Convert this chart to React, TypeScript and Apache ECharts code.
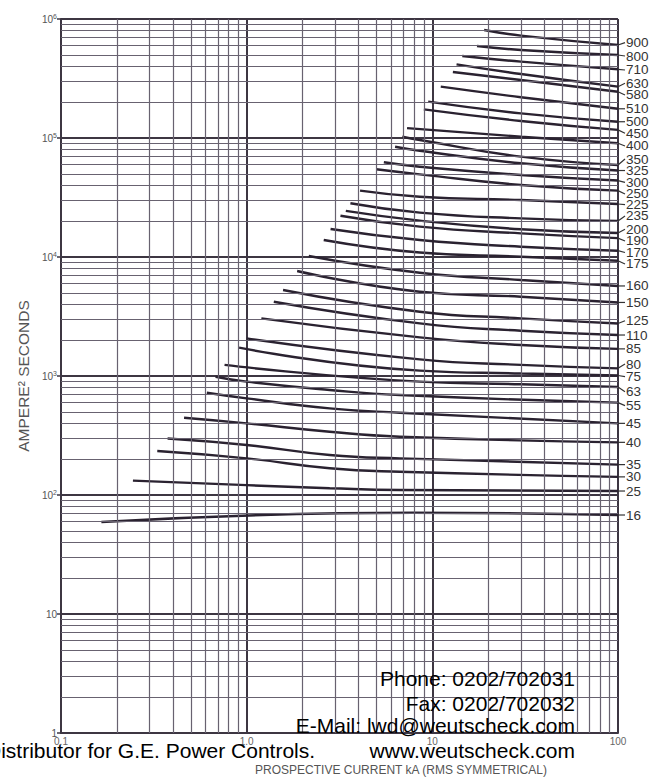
import React, { useEffect, useRef } from "react";
import * as echarts from "echarts";

// Fuse ratings (right-hand labels), top to bottom
const ratings = [
  "900", "800", "710", "630", "580", "510", "500", "450", "400", "350",
  "325", "300", "250", "225", "235", "200", "190", "170", "175", "160",
  "150", "125", "110", "85", "80", "75", "63", "55", "45", "40",
  "35", "30", "25", "16",
];

// Let-through I²t curves: [prospective current kA, A²s]
const c900 = [[19.0, 808000], [30, 725000], [100, 605000]];
const c800 = [[17.4, 593000], [30, 549000], [100, 498000]];
const c710 = [[14.5, 489000], [30, 438000], [100, 378000]];
const c630 = [[13.5, 416000], [30, 345000], [100, 270000]];
const c580 = [[12.9, 359000], [30, 307000], [100, 245000]];
const c510 = [[11.1, 270000], [30, 220000], [100, 176000]];
const c500 = [[9.5, 202000], [30, 161000], [100, 137000]];
const c450 = [[9.0, 174000], [30, 139000], [100, 117000]];
const c400 = [[7.31, 121000], [30, 102500], [100, 90300]];
const c350 = [[6.89, 102500], [8.56, 96200], [30, 69700], [100, 59300]];
const c325 = [[6.3, 84500], [8.56, 78200], [30, 61300], [100, 53300]];
const c300 = [[5.48, 62500], [8.56, 57400], [30, 48900], [100, 43900]];
const c250 = [[4.98, 54600], [8.56, 49500], [30, 40300], [100, 36100]];
const c225 = [[4.08, 36100], [8.56, 32100], [30, 30100], [100, 27900]];
const c235 = [[3.62, 28300], [8.56, 23600], [30, 21100], [100, 20100]];
const c200 = [[3.42, 24400], [8.56, 20200], [30, 17100], [100, 15900]];
const c190 = [[3.2, 22200], [8.56, 18000], [30, 15800], [100, 14400]];
const c170 = [[2.83, 17200], [8.56, 13900], [30, 12200], [100, 11300]];
const c175 = [[2.6, 13900], [8.56, 10900], [30, 10060], [100, 9310]];
const c160 = [[2.16, 10200], [8.56, 7380], [30, 6410], [100, 5710]];
const c150 = [[1.87, 7630], [8.56, 5110], [30, 4640], [100, 4150]];
const c125 = [[1.57, 5280], [8.56, 3470], [30, 3050], [100, 2760]];
const c110 = [[1.4, 4210], [8.56, 2770], [30, 2400], [100, 2210]];
const c85 = [[1.2, 3050], [8.56, 2110], [30, 1820], [100, 1690]];
const c80 = [[1.0, 2070], [8.56, 1380], [30, 1240], [100, 1160]];
const c75 = [[0.91, 1730], [8.56, 1110], [30, 1050], [100, 1010]];
const c63 = [[0.76, 1240], [8.56, 896], [30, 852], [100, 808]];
const c55 = [[0.68, 986], [1.0, 896], [2.8, 763], [6.68, 692], [100, 597]];
const c45 = [[0.61, 724], [1.0, 649], [2.8, 535], [6.68, 491], [100, 400]];
const c40 = [[0.46, 446], [1.0, 400], [2.8, 340], [6.68, 309], [100, 277]];
const c35 = [[0.375, 298], [1.0, 263], [2.8, 217], [6.68, 203], [100, 180]];
const c30 = [[0.33, 234], [1.0, 203], [2.8, 168], [6.68, 157], [100, 142]];
const c25 = [[0.244, 132], [1.0, 121], [2.8, 114], [6.68, 110], [100, 108]];
const c16 = [[0.165, 59.3], [3.17, 70.2], [7.85, 71.0], [100, 67.9]];

const curves = [
  c900, c800, c710, c630, c580, c510, c500, c450, c400, c350,
  c325, c300, c250, c225, c235, c200, c190, c170, c175, c160,
  c150, c125, c110, c85, c80, c75, c63, c55, c45, c40,
  c35, c30, c25, c16,
];

// vertical pixel offset of each rating label from its curve end (layout)
const labelShift = [
  -2.3, 1, 0.7, -3.4, 3.3, 0, 0, 3.3, 2.7, -6,
  0, 1.8, 3.3, 0.7, -5, -3.7, 2.8, 1.8, 3.3, 0,
  0, -2.8, 0, 0, -4.3, 1.2, 4.7, 3, 0, 0,
  0, 0, 0, 0,
];

const xTickText: Record<string, string> = { "0.1": "0.1", "1": "1.0", "10": "10", "100": "100" };
const xDecades = [0.1, 1, 10];
const yDecades = [1, 10, 100, 1000, 10000, 100000];
const minorSteps = [2, 3, 4, 5, 6, 7, 8, 9];

const contactLines = [
  "Phone: 0202/702031",
  "Fax: 0202/702032",
  "E-Mail: lwd@weutscheck.com",
  "www.weutscheck.com",
];
const distributorText = "Distributor for G.E. Power Controls.";
const xName = "PROSPECTIVE CURRENT kA (RMS SYMMETRICAL)";
const yName = "AMPERE\u00B2 SECONDS";

const FONT = "'Liberation Sans', Arial, Helvetica, sans-serif";
const MAJOR = "#3d3642";
const MINOR = "#686270";
const CURVE = "#2a2230";

export default function App() {
  const ref = useRef<HTMLDivElement>(null);

  useEffect(() => {
    if (!ref.current) return;
    const chart = echarts.init(ref.current, undefined, { renderer: "svg" });

    const minorX: any[] = [];
    xDecades.forEach((d) => minorSteps.forEach((m) => minorX.push({ xAxis: +(d * m).toPrecision(3) })));
    const minorY: any[] = [];
    yDecades.forEach((d) => minorSteps.forEach((m) => minorY.push({ yAxis: d * m })));

    const series: any[] = [
      {
        type: "line",
        data: [[1, 1]],
        showSymbol: false,
        symbol: "none",
        lineStyle: { opacity: 0 },
        silent: true,
        z: 1,
        markLine: {
          silent: true,
          symbol: ["none", "none"],
          label: { show: false },
          lineStyle: { color: MINOR, width: 1.2, type: "solid" },
          emphasis: { disabled: true },
          data: [...minorX, ...minorY],
        },
      },
      ...curves.map((pts, i) => ({
        type: "line",
        name: ratings[i],
        data: pts,
        symbol: "none",
        showSymbol: false,
        smooth: 0.5,
        lineStyle: { color: CURVE, width: 2.4 },
        z: 3,
      })),
    ];

    chart.setOption({
      animation: false,
      backgroundColor: "#ffffff",
      textStyle: { fontFamily: FONT },
      grid: { left: 61, right: 45, top: 19, bottom: 47 },
      xAxis: {
        type: "log",
        logBase: 10,
        min: 0.1,
        max: 100,
        axisLine: { show: true, lineStyle: { color: MAJOR, width: 2 } },
        axisTick: { show: false },
        axisLabel: {
          margin: 3,
          fontSize: 10,
          color: "#666",
          fontFamily: FONT,
          formatter: (v: number) => xTickText[String(+v.toPrecision(3))] ?? String(v),
        },
        splitLine: { show: true, lineStyle: { color: MAJOR, width: 2 } },
      },
      yAxis: {
        type: "log",
        logBase: 10,
        min: 1,
        max: 1000000,
        name: yName,
        nameLocation: "middle",
        nameGap: 30,
        nameTextStyle: { fontSize: 15.5, color: "#555", fontFamily: FONT },
        axisLine: { show: true, lineStyle: { color: MAJOR, width: 2 } },
        axisTick: { show: true, length: 4, lineStyle: { color: MAJOR, width: 1.5 } },
        axisLabel: {
          margin: 4,
          fontSize: 10,
          color: "#555",
          fontFamily: FONT,
          formatter: (v: number) => {
            const e = Math.round(Math.log10(v));
            if (e === 0) return "1";
            if (e === 1) return "10";
            return "{b|10}{s|" + e + "}";
          },
          rich: {
            b: { fontSize: 10, color: "#555", fontFamily: FONT },
            s: { fontSize: 7, color: "#555", fontFamily: FONT, verticalAlign: "top", padding: [0, 0, 6, 0] },
          },
        },
        splitLine: { show: true, lineStyle: { color: MAJOR, width: 2 } },
      },
      series,
    });

    const gfx: any[] = [];
    curves.forEach((pts, i) => {
      const end = pts[pts.length - 1];
      const p = chart.convertToPixel({ gridIndex: 0 } as any, end as any) as number[];
      if (!p) return;
      const ex = p[0];
      const ey = p[1];
      const ly = ey + labelShift[i];
      gfx.push({
        type: "line",
        silent: true,
        z: 50,
        shape: { x1: ex, y1: ey, x2: ex + 7, y2: ly },
        style: { stroke: "#333", lineWidth: 1.2 },
      });
      gfx.push({
        type: "text",
        silent: true,
        z: 50,
        x: ex + 8,
        y: ly,
        style: {
          text: ratings[i],
          fontSize: 13.5,
          fontFamily: FONT,
          fill: "#333",
          verticalAlign: "middle",
          align: "left",
        },
      });
    });

    const contactY = [678, 703, 725, 750];
    contactLines.forEach((t, i) => {
      gfx.push({
        type: "text",
        silent: true,
        z: 100,
        x: 575,
        y: contactY[i],
        style: { text: t, fontSize: 21, fontFamily: FONT, fill: "#000", align: "right", verticalAlign: "middle" },
      });
    });
    gfx.push({
      type: "text",
      silent: true,
      z: 100,
      x: -14,
      y: 750,
      style: { text: distributorText, fontSize: 21, fontFamily: FONT, fill: "#000", align: "left", verticalAlign: "middle" },
    });
    gfx.push({
      type: "text",
      silent: true,
      z: 100,
      x: 401,
      y: 770,
      style: { text: xName, fontSize: 12, fontFamily: FONT, fill: "#555", align: "center", verticalAlign: "middle" },
    });

    chart.setOption({ graphic: gfx });

    return () => chart.dispose();
  }, []);

  return (
    <div
      ref={ref}
      style={{ position: "fixed", left: 0, top: 0, width: 663, height: 780, background: "#fff" }}
    />
  );
}
